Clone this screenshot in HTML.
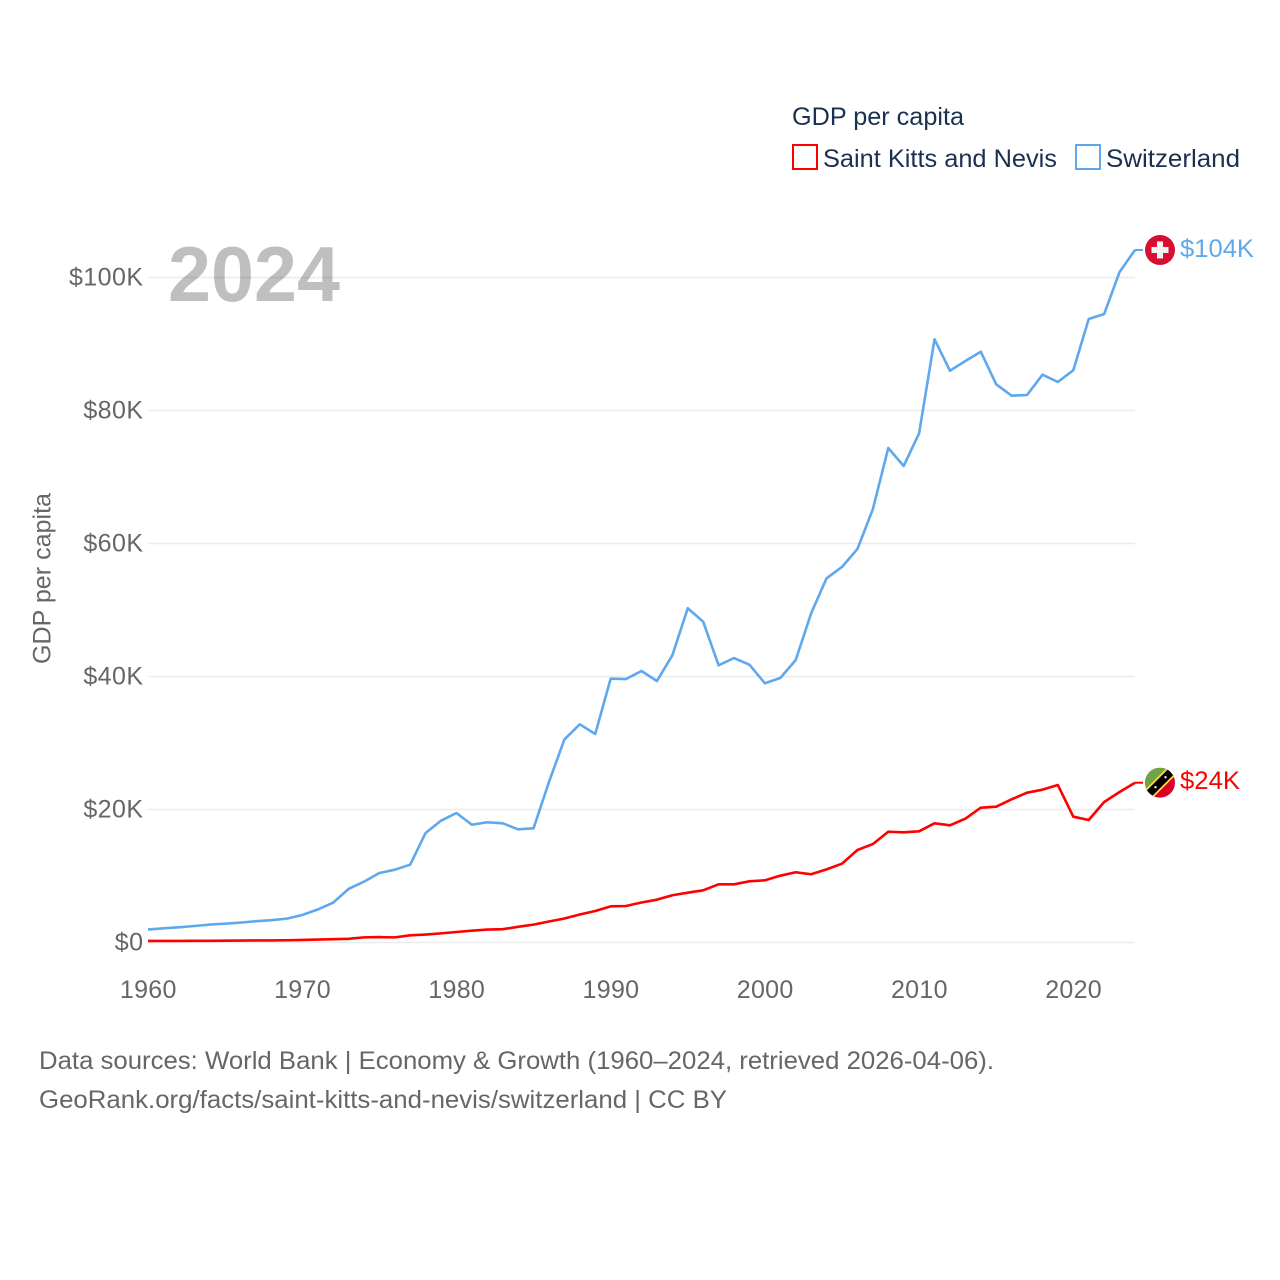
<!DOCTYPE html>
<html lang="en">
<head>
<meta charset="utf-8">
<title>GDP per capita: Saint Kitts and Nevis and Switzerland</title>
<style>
html,body{margin:0;padding:0;background:#fff}
svg{display:block}
text{font-family:"Liberation Sans",sans-serif}
</style>
</head>
<body>
<svg id="chart" width="1280" height="1280" viewBox="0 0 1280 1280" xmlns="http://www.w3.org/2000/svg">
  <defs>
    <clipPath id="flag-clip"><circle cx="0" cy="0" r="15"/></clipPath>
  </defs>
  <rect x="0" y="0" width="1280" height="1280" fill="#fff"/>
  <g id="grid"></g>
  <g id="yticks"></g>
  <g id="xticks"></g>
  <text transform="translate(50.5,664) rotate(-90)" font-size="25" fill="#666" textLength="171" lengthAdjust="spacingAndGlyphs">GDP per capita</text>
  <text x="168" y="301" font-size="78" font-weight="700" fill="#000" fill-opacity="0.25" textLength="172" lengthAdjust="spacingAndGlyphs">2024</text>
  <g id="series"></g>

  <g id="flag-che">
    <g clip-path="url(#flag-clip)">
      <rect x="-15" y="-15" width="30" height="30" fill="#d80f31"/>
      <rect x="-3" y="-8.5" width="6" height="17" fill="#f2f2f2"/>
      <rect x="-8.5" y="-3" width="17" height="6" fill="#f2f2f2"/>
    </g>
  </g>
  <g id="flag-kna">
    <g clip-path="url(#flag-clip)">
      <rect x="-15" y="-15" width="30" height="30" fill="#d80027"/>
      <polygon points="-15,-15 15,-15 -15,15" fill="#6da544"/>
      <polygon points="-15,7 7,-15 15,-15 15,-7 -7,15 -15,15" fill="#ffda44"/>
      <polygon points="-15,9.5 9.5,-15 15,-15 15,-9.5 -9.5,15 -15,15" fill="#000"/>
      <circle cx="5.5" cy="-5.5" r="1.2" fill="#f2f2f2"/>
      <circle cx="-4.5" cy="4.5" r="1.2" fill="#f2f2f2"/>
    </g>
  </g>
  <text id="label-che" x="1180" font-size="25" fill="#5fa8ee" textLength="74" lengthAdjust="spacingAndGlyphs"></text>
  <text id="label-kna" x="1180" font-size="25" fill="#ff0000" textLength="60" lengthAdjust="spacingAndGlyphs"></text>

  <g>
    <text x="792" y="125" font-size="25" fill="#1a3050" textLength="172" lengthAdjust="spacingAndGlyphs">GDP per capita</text>
    <g>
      <rect x="793" y="145" width="24" height="24" fill="#fff" stroke="#ff0000" stroke-width="2"/>
      <text x="823" y="167" font-size="25" fill="#1a3050" textLength="234" lengthAdjust="spacingAndGlyphs">Saint Kitts and Nevis</text>
    </g>
    <g>
      <rect x="1076" y="145" width="24" height="24" fill="#fff" stroke="#5fa8ee" stroke-width="2"/>
      <text x="1106" y="167" font-size="25" fill="#1a3050" textLength="134" lengthAdjust="spacingAndGlyphs">Switzerland</text>
    </g>
  </g>

  <text x="39" y="1069" font-size="25" fill="#666" textLength="955" lengthAdjust="spacingAndGlyphs">Data sources: World Bank | Economy &amp; Growth (1960–2024, retrieved 2026-04-06).</text>
  <text x="39" y="1108" font-size="25" fill="#666" textLength="688" lengthAdjust="spacingAndGlyphs">GeoRank.org/facts/saint-kitts-and-nevis/switzerland | CC BY</text>
</svg>
<script>
var firstYear = 1960;
var switzerlandValues = [1.95,2.14,2.29,2.48,2.69,2.83,2.99,3.2,3.35,3.59,4.14,4.96,5.98,8.05,9.14,10.45,10.95,11.7,16.47,18.32,19.47,17.71,18.08,17.92,17.02,17.17,24.14,30.53,32.81,31.35,39.67,39.62,40.83,39.32,43.19,50.26,48.24,41.68,42.78,41.77,38.98,39.77,42.48,49.5,54.77,56.47,59.17,65.14,74.36,71.65,76.57,90.71,85.98,87.44,88.84,83.94,82.23,82.33,85.38,84.29,86.05,93.76,94.51,100.83,104.14];
var saintKittsValues = [0.23,0.23,0.24,0.25,0.26,0.27,0.29,0.31,0.31,0.34,0.38,0.44,0.5,0.55,0.77,0.81,0.77,1.08,1.19,1.37,1.58,1.77,1.94,2.0,2.36,2.69,3.16,3.61,4.21,4.74,5.44,5.49,6.02,6.44,7.1,7.49,7.85,8.75,8.75,9.2,9.35,10.05,10.56,10.26,11.0,11.85,13.91,14.8,16.66,16.57,16.72,17.92,17.62,18.62,20.27,20.42,21.53,22.53,22.98,23.68,18.92,18.42,21.13,22.63,24.03];
var yTickValues = [0,20,40,60,80,100];
var yTickLabels = ["$0","$20K","$40K","$60K","$80K","$100K"];
var xTickValues = [1960,1970,1980,1990,2000,2010,2020];
var xTickLabels = ["1960","1970","1980","1990","2000","2010","2020"];

var NS = "http://www.w3.org/2000/svg";
var plotLeft = 148, plotRight = 1135, lastYear = 2024;
function xScale(year){ return plotLeft + (year - firstYear) * (plotRight - plotLeft) / (lastYear - firstYear); }
function yScale(value){ return 942.5 - value * 6.65; }
function make(tag, attrs, parent){
  var el = document.createElementNS(NS, tag);
  for (var k in attrs) el.setAttribute(k, attrs[k]);
  parent.appendChild(el);
  return el;
}

var gridGroup = document.getElementById("grid");
var yGroup = document.getElementById("yticks");
yTickValues.forEach(function(v, i){
  var line = make("line", {x1: plotLeft, x2: plotRight, y1: yScale(v), y2: yScale(v), stroke: "#ebebeb", "stroke-width": 1.5}, gridGroup);
  
  
  var t = make("text", {x: 143.5, y: yScale(v) + 8, "text-anchor": "end", "font-size": 25, fill: "#666", "letter-spacing": 0.45}, yGroup);
  
  
  t.textContent = yTickLabels[i];
});

var xGroup = document.getElementById("xticks");
xTickValues.forEach(function(v, i){
  var t = make("text", {x: xScale(v) + 0.3, y: 998, "text-anchor": "middle", "font-size": 25, fill: "#666", "letter-spacing": 0.3}, xGroup);
  
  
  t.textContent = xTickLabels[i];
});

function drawSeries(values, color, name){
  var group = document.getElementById("series");
  var pts = values.map(function(v, i){ return xScale(firstYear + i).toFixed(2) + "," + yScale(v).toFixed(2); });
  var line = make("polyline", {points: pts.join(" "), fill: "none", stroke: color, "stroke-width": 2.6, "stroke-linejoin": "round"}, group);
  
  
  var endY = yScale(values[values.length - 1]);
  var conn = make("line", {x1: plotRight, x2: 1143, y1: endY, y2: endY, stroke: color, "stroke-width": 2}, group);
  
  
  return endY;
}

var cheY = drawSeries(switzerlandValues, "#5fa8ee", "switzerland-line");
var knaY = drawSeries(saintKittsValues, "#ff0000", "saint-kitts-and-nevis-line");
document.getElementById("flag-che").setAttribute("transform", "translate(1160," + cheY + ")");
document.getElementById("flag-kna").setAttribute("transform", "translate(1160," + knaY + ")");
var labelChe = document.getElementById("label-che");
labelChe.setAttribute("y", cheY + 7);
labelChe.textContent = "$" + Math.round(switzerlandValues[switzerlandValues.length - 1]) + "K";
var labelKna = document.getElementById("label-kna");
labelKna.setAttribute("y", knaY + 6.5);
labelKna.textContent = "$" + Math.round(saintKittsValues[saintKittsValues.length - 1]) + "K";
</script>
</body>
</html>
